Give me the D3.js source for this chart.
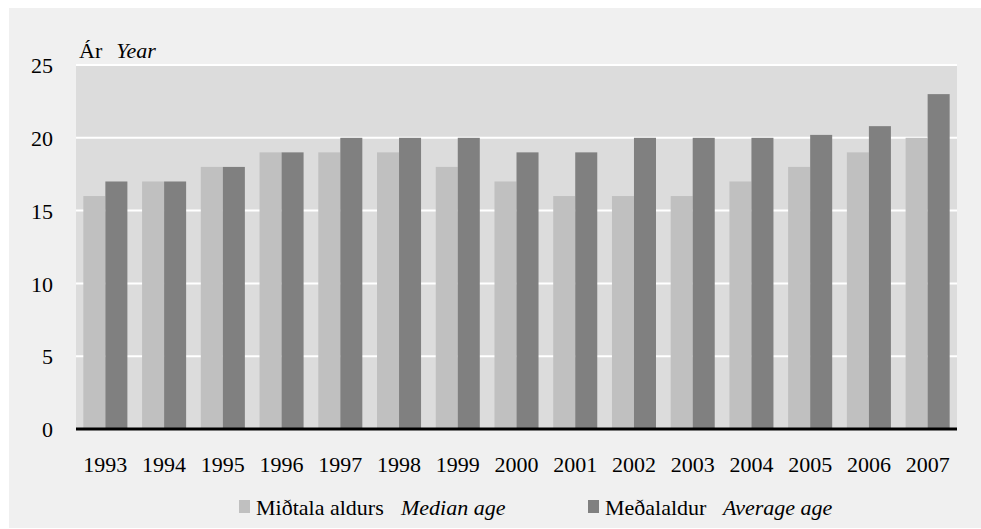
<!DOCTYPE html>
<html>
<head>
<meta charset="utf-8">
<script src="https://cdn.jsdelivr.net/npm/d3@7/dist/d3.min.js"></script>
</head>
<body style="margin:0">
<svg id="chart" width="981" height="529" style="display:block"></svg>
<script>
const years = ["1993","1994","1995","1996","1997","1998","1999","2000","2001","2002","2003","2004","2005","2006","2007"];
const medianAge = [16,17,18,19,19,19,18,17,16,16,16,17,18,19,20];
const averageAge = [17,17,18,19,20,20,20,19,19,20,20,20,20.2,20.8,23];
const yTicks = [0,5,10,15,20,25];
const seriesNames = ["Miðtala aldurs", "Meðalaldur"];
const seriesNamesEn = ["Median age", "Average age"];
const colors = ["#c0c0c0", "#808080"];

const FONT = "'Liberation Serif'";
const FS = "22px";

const svg = d3.select("#chart");
const W = 981;
const plot = {left: 76, right: 957, top: 65, bottom: 429};

svg.append("rect").attr("x", 9).attr("y", 8).attr("width", W - 9).attr("height", 520).attr("fill", "#f0f0f0");
svg.append("rect").attr("x", plot.left).attr("y", plot.top).attr("width", plot.right - plot.left).attr("height", plot.bottom - plot.top).attr("fill", "#dcdcdc");

const x = d3.scaleBand().domain(years).range([plot.left, plot.right]).paddingInner(0.25).paddingOuter(0.125);
const xs = d3.scaleBand().domain([0,1]).range([0, x.bandwidth()]);
const y = d3.scaleLinear().domain([0, 25]).range([plot.bottom, plot.top]);

// gridlines
svg.append("g").selectAll("line").data(yTicks.filter(d => d > 0)).join("line")
  .attr("x1", plot.left).attr("x2", plot.right)
  .attr("y1", d => y(d)).attr("y2", d => y(d))
  .attr("stroke", "#ffffff").attr("stroke-width", 2);

// bars
const series = [medianAge, averageAge];
series.forEach((vals, si) => {
  svg.append("g").selectAll("rect").data(vals).join("rect")
    .attr("x", (d, i) => x(years[i]) + xs(si))
    .attr("y", d => y(d))
    .attr("width", xs.bandwidth())
    .attr("height", d => y(0) - y(d))
    .attr("fill", colors[si]);
});

// baseline
svg.append("line").attr("x1", plot.left).attr("x2", plot.right)
  .attr("y1", y(0)).attr("y2", y(0)).attr("stroke", "#000").attr("stroke-width", 3);

// y axis labels
const yAxis = d3.axisLeft(y).tickValues(yTicks).tickSize(0).tickPadding(0);
const gy = svg.append("g").attr("transform", "translate(53,0)").call(yAxis);
gy.attr("font-family", null).attr("font-size", null);
gy.select(".domain").remove();
gy.selectAll("text").style("font-size", FS).style("font-family", FONT).attr("fill", "#000").attr("dy", "0.35em");

// x axis labels
const xAxis = d3.axisBottom(x).tickSize(0).tickPadding(0);
const gx = svg.append("g").attr("transform", "translate(0,472)").call(xAxis);
gx.attr("font-family", null).attr("font-size", null);
gx.select(".domain").remove();
gx.selectAll("text").style("font-size", FS).style("font-family", FONT).attr("fill", "#000").attr("dy", 0);

// y title
const yt = svg.append("text").attr("x", 79).attr("y", 58).style("font-size", FS).style("font-family", FONT).attr("fill", "#000");
yt.append("tspan").text("Ár");
yt.append("tspan").attr("dx", 14).style("font-style", "italic").text("Year");

// legend
const legendX = [239, 588];
const legendEnX = [401, 723];
seriesNames.forEach((name, i) => {
  svg.append("rect").attr("x", legendX[i]).attr("y", 500).attr("width", 11).attr("height", 13).attr("fill", colors[i]);
  svg.append("text").attr("x", legendX[i] + 17).attr("y", 515).style("font-size", FS).style("font-family", FONT).attr("fill", "#000").text(name);
  svg.append("text").attr("x", legendEnX[i]).attr("y", 515).style("font-size", FS).style("font-family", FONT).style("font-style", "italic").attr("fill", "#000").text(seriesNamesEn[i]);
});
</script>
</body>
</html>
